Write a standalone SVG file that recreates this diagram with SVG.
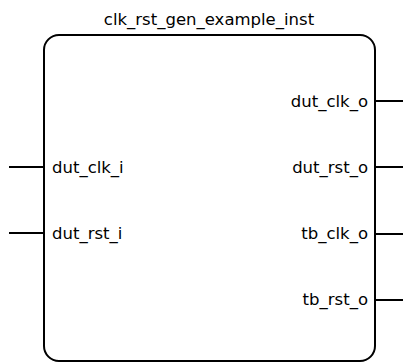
<svg xmlns="http://www.w3.org/2000/svg" width="403" height="362" viewBox="0 0 403 362">
<style>
.t{font-family:"DejaVu Sans",sans-serif;font-size:16.5px;fill:#000}
.p{stroke:#000;stroke-width:2;fill:none}
</style>
<rect width="403" height="362" fill="#fff"/>
<g id="clk_rst_gen_example_inst">
<text class="t" x="209" y="25" text-anchor="middle">clk_rst_gen_example_inst</text>
<rect class="p" x="44" y="35" width="331" height="326" rx="15" ry="15"/>
<text class="t" x="52" y="172.5">dut_clk_i</text>
<text class="t" x="52" y="239">dut_rst_i</text>
<text class="t" x="368" y="106.5" text-anchor="end">dut_clk_o</text>
<text class="t" x="368" y="173" text-anchor="end">dut_rst_o</text>
<text class="t" x="368" y="239" text-anchor="end">tb_clk_o</text>
<text class="t" x="368" y="305" text-anchor="end">tb_rst_o</text>
</g>
<g id="connectors">
<path class="p" d="M9 167H44M9 233H44M375 101H403M375 167H403M375 234H403M375 300H403"/>
</g>
</svg>
